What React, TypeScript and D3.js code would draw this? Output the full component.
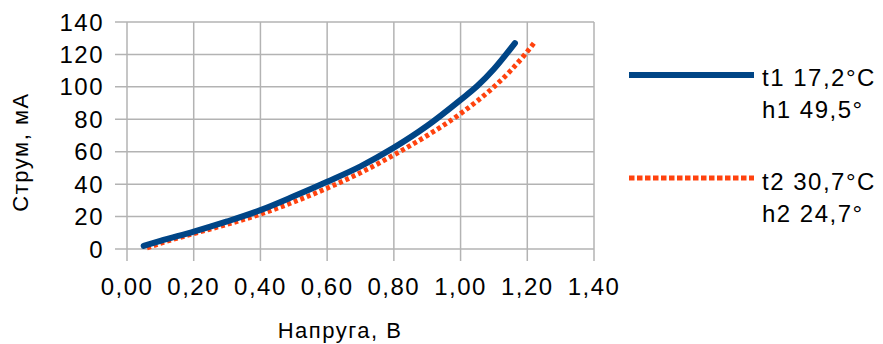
import React from "react";
import * as d3 from "d3";

const xTicks = [0, 0.2, 0.4, 0.6, 0.8, 1.0, 1.2, 1.4];
const yTicks = [0, 20, 40, 60, 80, 100, 120, 140];

const series1V = [0.05, 0.1, 0.2, 0.3, 0.4, 0.5, 0.6, 0.7, 0.8, 0.9, 1.0, 1.05, 1.1, 1.163];
const series1I = [1.9, 5, 10.7, 17, 24, 32.5, 41.5, 51, 62.5, 76, 92, 100.5, 111, 127];
const series2V = [0.06, 0.1, 0.2, 0.3, 0.4, 0.5, 0.6, 0.7, 0.8, 0.9, 1.0, 1.1, 1.15, 1.193, 1.22];
const series2I = [0.6, 3.5, 9.5, 15.2, 21.5, 29, 37.5, 47, 58, 70, 83.5, 100, 110, 120, 127];

const legend1 = ["t1 17,2°C", "h1 49,5°"];
const legend2 = ["t2 30,7°C", "h2 24,7°"];

const W = 883;
const H = 344;
const L = 127, R = 594, T = 22, B = 249;
const BLUE = "#004586";
const RED = "#ff420e";
const GRID = "#b3b3b3";
const TXT = "#000";
const FONT = "'Liberation Sans', Arial, sans-serif";

export default function App() {
  const x = d3.scaleLinear().domain([0, 1.4]).range([L, R]);
  const y = d3.scaleLinear().domain([0, 140]).range([B, T]);
  const line = d3
    .line<[number, number]>()
    .x((d) => x(d[0]))
    .y((d) => y(d[1]))
    .curve(d3.curveMonotoneX);
  const d1 = line(series1V.map((v, i) => [v, series1I[i]]) as [number, number][]) || "";
  const d2 = line(series2V.map((v, i) => [v, series2I[i]]) as [number, number][]) || "";
  const fmt = (v: number) => v.toFixed(2).replace(".", ",");

  return (
    <svg width={W} height={H} style={{ position: "absolute", left: 0, top: 0, background: "#fff" }}>
      <rect x={0} y={0} width={W} height={H} fill="#fff" />
      {xTicks.map((t) => (
        <line key={"gx" + t} x1={x(t)} x2={x(t)} y1={T} y2={B + 12} stroke={GRID} strokeWidth={1.5} />
      ))}
      {yTicks.map((t) => (
        <line key={"gy" + t} x1={L - 12} x2={R} y1={y(t)} y2={y(t)} stroke={GRID} strokeWidth={1.5} />
      ))}
      {xTicks.map((t) => (
        <text key={"tx" + t} x={x(t)} y={295} textAnchor="middle" fontFamily={FONT} fontSize={24} letterSpacing={1.5} fill={TXT}>
          {fmt(t)}
        </text>
      ))}
      {yTicks.map((t) => (
        <text key={"ty" + t} x={104} y={y(t) + 8.5} textAnchor="end" fontFamily={FONT} fontSize={24} letterSpacing={1.5} fill={TXT}>
          {t}
        </text>
      ))}
      <path d={d2} fill="none" stroke={RED} strokeWidth={5} strokeDasharray="4 3" />
      <path d={d1} fill="none" stroke={BLUE} strokeWidth={6} strokeLinecap="round" />
      <text x={340} y={338} textAnchor="middle" fontFamily={FONT} fontSize={22} letterSpacing={1.5} fill={TXT}>
        Напруга, В
      </text>
      <text
        transform={`translate(28, 152) rotate(-90)`}
        textAnchor="middle"
        fontFamily={FONT}
        fontSize={22}
        letterSpacing={1.5}
        fill={TXT}
      >
        Струм, мА
      </text>
      <line x1={629} x2={754} y1={75} y2={75} stroke={BLUE} strokeWidth={6} />
      {legend1.map((s, i) => (
        <text key={s} x={762} y={86 + i * 31.5} fontFamily={FONT} fontSize={24} letterSpacing={1.5} fill={TXT}>
          {s}
        </text>
      ))}
      <line x1={629} x2={754} y1={178} y2={178} stroke={RED} strokeWidth={5} strokeDasharray="5.5 2.5" />
      {legend2.map((s, i) => (
        <text key={s} x={762} y={190 + i * 31.5} fontFamily={FONT} fontSize={24} letterSpacing={1.5} fill={TXT}>
          {s}
        </text>
      ))}
    </svg>
  );
}
